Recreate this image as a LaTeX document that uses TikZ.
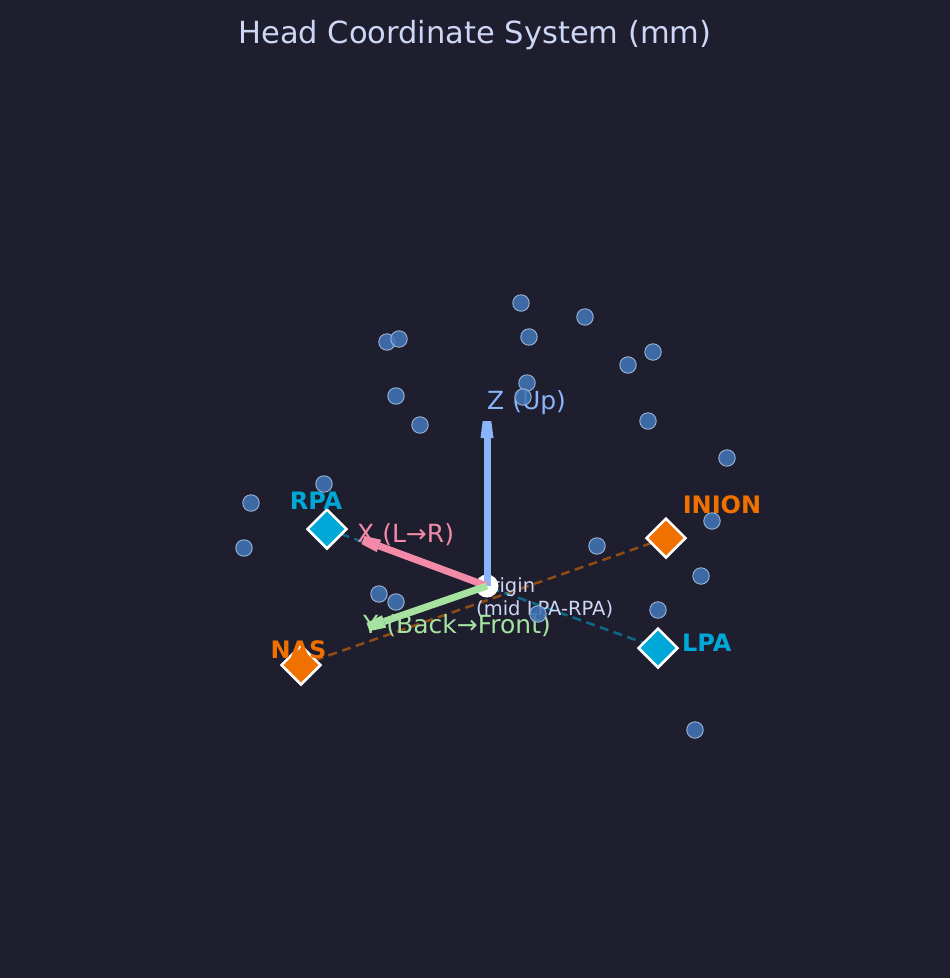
\documentclass[tikz,border=0pt]{standalone}
\usepackage{fontspec}
\setmainfont{DejaVu Sans}
\usetikzlibrary{arrows.meta,shapes.geometric,calc}
\definecolor{bg}{HTML}{1E1E2E}
\definecolor{fg}{HTML}{CDD6F4}
\definecolor{zcol}{HTML}{89B4FA}
\definecolor{xcol}{HTML}{F38BA8}
\definecolor{ycol}{HTML}{A6E3A1}
\definecolor{cyanc}{HTML}{00A8D8}
\definecolor{orangec}{HTML}{F07000}
\definecolor{elecfill}{HTML}{4274B6}
\definecolor{elecedge}{HTML}{A8C0E0}
\tikzset{
  elec/.style={circle, fill=elecfill, fill opacity=0.88, draw=elecedge, draw opacity=0.9, line width=0.9pt, minimum size=16.5pt, inner sep=0pt},
  landmark/.style={diamond, draw=white, line width=2.5pt, minimum width=40pt, minimum height=40pt, inner sep=0pt},
  lmlabel/.style={font=\bfseries\fontsize{24}{28}\selectfont, inner sep=0pt},
  axlabel/.style={font=\fontsize{25}{29}\selectfont, inner sep=0pt, anchor=base west},
  axshaft/.style={line width=7pt, line cap=butt},
  refline/.style={dash pattern=on 9pt off 5.5pt, line width=2.5pt, draw opacity=0.55},
}
% arrow with blunt (bevelled) head: #1 colour, #2 start, #3 tip
\newcommand{\axisarrow}[3]{%
  \coordinate (#3b) at ($(#3)!17pt!(#2)$);
  \draw[axshaft, #1] (#2) -- (#3b);
  \fill[#1] ($(#3)!4.3pt!90:(#2)$) -- ($(#3)!4.3pt!-90:(#2)$)
     -- ($(#3b)!6.5pt!90:(#3)$) -- ($(#3b)!6.5pt!-90:(#3)$) -- cycle;
}
\begin{document}
\begin{tikzpicture}[x=1pt,y=-1pt]
\useasboundingbox (0,0) rectangle (950,978);
\fill[bg] (0,0) rectangle (950,978);
% title
\node[font=\fontsize{30.5}{36}\selectfont, text=fg, anchor=base, inner sep=0pt] (title) at (475,43) {Head Coordinate System (mm)};
% landmarks (positions)
\coordinate (pnas) at (301,665);
\coordinate (pinion) at (666,538);
\coordinate (prpa) at (327,529);
\coordinate (plpa) at (658,648);
% dashed reference lines
\draw[refline, draw=orangec] (pnas) -- (pinion);
\draw[refline, draw=cyanc] (prpa) -- (plpa);
% origin text
\node[font=\fontsize{19.5}{23}\selectfont, text=fg, anchor=base west, inner sep=0pt, align=left] (otext) at (476,615) {Origin\\(mid LPA-RPA)};
% origin
\node[circle, fill=white, minimum size=23pt, inner sep=0pt] (o) at (487,586) {};
\coordinate (oc) at (487,586);
% axis arrows
\coordinate (ztip) at (487,421);
\coordinate (xtip) at (363,540);
\coordinate (ytip) at (368,627);
\axisarrow{zcol}{oc}{ztip}
\axisarrow{xcol}{oc}{xtip}
\axisarrow{ycol}{oc}{ytip}
% axis labels
\node[axlabel, text=zcol] (zl) at (487,409) {Z (Up)};
\node[axlabel, text=xcol] (xl) at (357,542) {X (L→R)};
\node[axlabel, text=ycol] (yl) at (363,633) {Y (Back→Front)};
% landmark markers
\node[landmark, fill=orangec] (nas) at (pnas) {};
\node[landmark, fill=orangec] (inion) at (pinion) {};
\node[landmark, fill=cyanc] (rpa) at (prpa) {};
\node[landmark, fill=cyanc] (lpa) at (plpa) {};
% landmark labels
\node[lmlabel, text=orangec, anchor=base] (nasl) at (298.5,658) {NAS};
\node[lmlabel, text=orangec, anchor=base] (inionl) at (722,513) {INION};
\node[lmlabel, text=cyanc, anchor=base] (rpal) at (316,509) {RPA};
\node[lmlabel, text=cyanc, anchor=base west] (lpal) at (682,651) {LPA};
% electrodes
\node[elec] (e1) at (521,303) {};
\node[elec] (e2) at (585,317) {};
\node[elec] (e3) at (387,342) {};
\node[elec] (e4) at (399,339) {};
\node[elec] (e5) at (529,337) {};
\node[elec] (e6) at (628,365) {};
\node[elec] (e7) at (653,352) {};
\node[elec] (e8) at (527,383) {};
\node[elec] (e9) at (523,397) {};
\node[elec] (e10) at (396,396) {};
\node[elec] (e11) at (420,425) {};
\node[elec] (e12) at (648,421) {};
\node[elec] (e13) at (727,458) {};
\node[elec] (e14) at (324,484) {};
\node[elec] (e15) at (251,503) {};
\node[elec] (e16) at (244,548) {};
\node[elec] (e17) at (712,521) {};
\node[elec] (e18) at (597,546) {};
\node[elec] (e19) at (701,576) {};
\node[elec] (e20) at (379,594) {};
\node[elec] (e21) at (396,602) {};
\node[elec] (e22) at (658,610) {};
\node[elec] (e23) at (538,614) {};
\node[elec] (e24) at (695,730) {};
\end{tikzpicture}
\end{document}
